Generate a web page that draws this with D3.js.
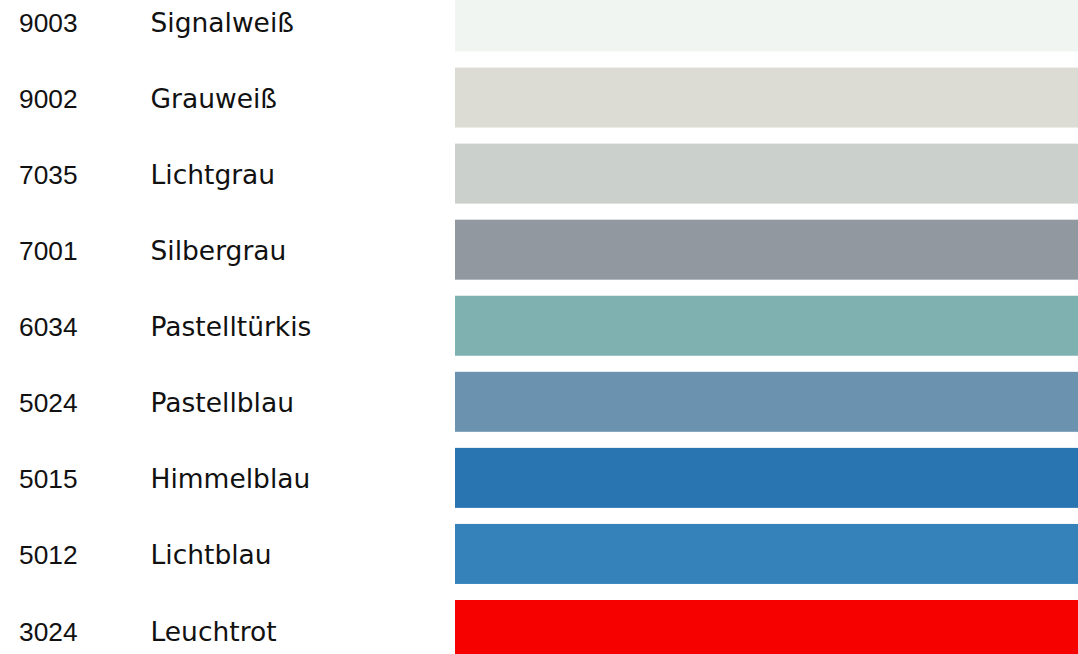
<!DOCTYPE html>
<html>
<head>
<meta charset="utf-8">
<script src="https://cdn.jsdelivr.net/npm/d3@7"></script>
<style>
  html, body { margin: 0; padding: 0; background: #ffffff; overflow: hidden; }
  svg { display: block; }
</style>
</head>
<body>
<svg id="chart" width="1078" height="654"></svg>
<script>
const codes = ["9003", "9002", "7035", "7001", "6034", "5024", "5015", "5012", "3024"];
const names = ["Signalweiß", "Grauweiß", "Lichtgrau", "Silbergrau", "Pastelltürkis", "Pastellblau", "Himmelblau", "Lichtblau", "Leuchtrot"];
const swatches = ["#f1f5f2", "#dcdcd4", "#cbd0cd", "#9198a0", "#7fb1b1", "#6b93b0", "#2975b1", "#3582ba", "#f70000"];

const W = 1078, H = 654;
const svg = d3.select("#chart");

const y = d3.scalePoint().domain(codes).range([21.5, 630]);
const x = d3.scaleLinear().domain([0, 1]).range([455, W]);
const barH = 60;

const rows = codes.map((c, i) => ({ code: c, name: names[i], color: swatches[i] }));

const g = svg.selectAll("g.row").data(rows).join("g").attr("class", "row");

g.append("rect")
  .attr("x", x(0))
  .attr("y", d => y(d.code) - barH / 2)
  .attr("width", x(1) - x(0))
  .attr("height", barH)
  .attr("fill", d => d.color);

g.append("text")
  .attr("x", 19)
  .attr("y", d => y(d.code) + 10.5)
  .attr("font-family", "'Liberation Sans', Arial, sans-serif")
  .attr("font-size", 26.3)
  .attr("fill", "#111")
  .text(d => d.code);

g.append("text")
  .attr("x", 150.5)
  .attr("y", d => y(d.code) + 10.5)
  .attr("font-family", "'DejaVu Sans', Verdana, sans-serif")
  .attr("font-size", 26.5)
  .attr("fill", "#111")
  .text(d => d.name);
</script>
</body>
</html>
